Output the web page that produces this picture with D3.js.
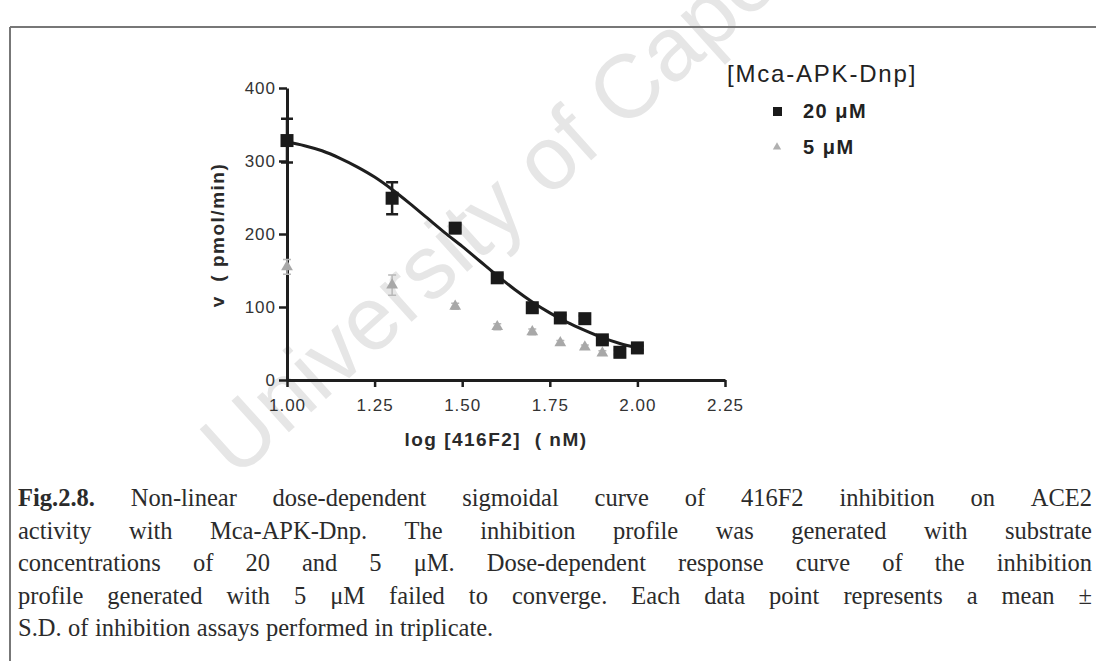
<!DOCTYPE html>
<html>
<head>
<meta charset="utf-8">
<script src="https://cdn.jsdelivr.net/npm/d3@7"></script>
<style>
  body { margin: 0; background: #fff; }
  svg { display: block; }
</style>
</head>
<body>
<svg id="fig" width="1096" height="661"></svg>
<script>
// log[416F2] (nM) for each dose
var logConc = [1.00, 1.30, 1.48, 1.60, 1.70, 1.78, 1.85, 1.90, 1.95, 2.00];
// 20 uM substrate: mean rate and S.D.
var rate20 = [328, 249, 208, 140, 99, 85, 84, 55, 38, 44];
var sd20 = [30, 22, 5, 5, 5, 4, 4, 4, 3, 3];
// 5 uM substrate (no fit)
var rate5 = [155, 130, 101, 73, 66, 51, 45, 37, 34, 40];
var sd5 = [10, 14, 4, 4, 4, 3, 3, 3, 3, 3];
// fitted sigmoid for 20 uM
var fitX = [1.00, 1.05, 1.10, 1.15, 1.20, 1.25, 1.30, 1.35, 1.40, 1.45, 1.50, 1.55, 1.60, 1.65, 1.70, 1.75, 1.80, 1.85, 1.90, 1.95, 2.00];
var fitY = [326, 321, 314, 304, 292, 278, 261, 242, 222, 202, 183, 163, 143, 124, 107, 92, 79, 68, 58, 50, 44];

var xTicks = [1.00, 1.25, 1.50, 1.75, 2.00, 2.25];
var yTicks = [0, 100, 200, 300, 400];

var legendTitle = "[Mca-APK-Dnp]";
var seriesNames = ["20 \u03bcM", "5 \u03bcM"];

var captionLines = [
    "Fig.2.8. Non-linear dose-dependent sigmoidal curve of 416F2 inhibition on ACE2",
    "activity with Mca-APK-Dnp. The inhibition profile was generated with substrate",
    "concentrations of 20 and 5 \u03bcM. Dose-dependent response curve of the inhibition",
    "profile generated with 5 \u03bcM failed to converge. Each data point represents a mean \u00b1",
    "S.D. of inhibition assays performed in triplicate."
];

var svg = d3.select("#fig");
var ink = "#1e1e1e";
var sans = "'Liberation Sans', Arial, sans-serif";

// watermark of the scanned thesis page
svg.append("text")
    .attr("transform", "translate(236,480) rotate(-42)")
    .attr("font-family", sans)
    .attr("font-size", 90)
    .attr("fill", "#e6e6e6")
    .text("University of Cape Town");

// frame of the page
svg.append("line").attr("x1", 10).attr("x2", 1096).attr("y1", 27).attr("y2", 27)
    .attr("stroke", "#777").attr("stroke-width", 2);
svg.append("line").attr("x1", 10).attr("x2", 10).attr("y1", 27).attr("y2", 661)
    .attr("stroke", "#777").attr("stroke-width", 2);

var x = d3.scaleLinear().domain([1, 2.25]).range([287, 725]);
var y = d3.scaleLinear().domain([0, 400]).range([380, 88]);

var plot = svg.append("g");

// axes
var xAxis = plot.append("g")
    .attr("transform", "translate(0," + y(0) + ")")
    .call(d3.axisBottom(x).tickValues(xTicks).tickFormat(d3.format(".2f")).tickSize(7).tickSizeOuter(0).tickPadding(12));
var yAxis = plot.append("g")
    .attr("transform", "translate(" + x(1) + ",0)")
    .call(d3.axisLeft(y).tickValues(yTicks).tickSize(8).tickSizeOuter(0).tickPadding(3));

[xAxis, yAxis].forEach(function (a) {
    a.select(".domain").attr("stroke", ink).attr("stroke-width", 3);
    a.selectAll(".tick line").attr("stroke", ink).attr("stroke-width", 2.5);
    a.selectAll(".tick text").attr("fill", "#333").attr("font-family", sans)
        .attr("font-size", 17).attr("letter-spacing", 1);
});

// axis titles
plot.append("text")
    .attr("x", 496).attr("y", 446)
    .attr("text-anchor", "middle")
    .attr("font-family", sans).attr("font-size", 19).attr("font-weight", "bold")
    .attr("fill", "#2a2a2a").attr("letter-spacing", 1.5)
    .attr("xml:space", "preserve")
    .text("log [416F2]  ( nM)");
plot.append("text")
    .attr("transform", "translate(224,235) rotate(-90)")
    .attr("text-anchor", "middle")
    .attr("font-family", sans).attr("font-size", 19).attr("font-weight", "bold")
    .attr("fill", "#2a2a2a").attr("letter-spacing", 1.5)
    .attr("xml:space", "preserve")
    .text("v  ( pmol/min)");

// 5 uM points (grey triangles)
var tri = d3.symbol().type(d3.symbolTriangle).size(60);
var pts5 = logConc.map(function (d, i) { return { x: d, v: rate5[i], sd: sd5[i] }; });
var g5 = plot.append("g");
g5.selectAll("path.err").data(pts5).enter().append("path")
    .attr("class", "err")
    .attr("d", function (d) {
        var cx = x(d.x), t = y(d.v + d.sd), b = y(d.v - d.sd);
        return "M" + (cx - 4) + "," + t + "H" + (cx + 4) + "M" + cx + "," + t + "V" + b + "M" + (cx - 4) + "," + b + "H" + (cx + 4);
    })
    .attr("stroke", "#b8b8b8").attr("stroke-width", 1.5).attr("fill", "none");
g5.selectAll("path.pt").data(pts5).enter().append("path")
    .attr("class", "pt")
    .attr("d", tri)
    .attr("transform", function (d) { return "translate(" + x(d.x) + "," + y(d.v) + ")"; })
    .attr("fill", "#a8a8a8");

// fitted curve
var fit = fitX.map(function (d, i) { return [d, fitY[i]]; });
plot.append("path")
    .datum(fit)
    .attr("d", d3.line().x(function (d) { return x(d[0]); }).y(function (d) { return y(d[1]); }).curve(d3.curveMonotoneX))
    .attr("fill", "none").attr("stroke", ink).attr("stroke-width", 3);

// 20 uM points (black squares)
var pts20 = logConc.map(function (d, i) { return { x: d, v: rate20[i], sd: sd20[i] }; });
var g20 = plot.append("g");
g20.selectAll("path.err").data(pts20).enter().append("path")
    .attr("class", "err")
    .attr("d", function (d) {
        var cx = x(d.x), t = y(d.v + d.sd), b = y(d.v - d.sd);
        return "M" + (cx - 6) + "," + t + "H" + (cx + 6) + "M" + cx + "," + t + "V" + b + "M" + (cx - 6) + "," + b + "H" + (cx + 6);
    })
    .attr("stroke", ink).attr("stroke-width", 2.5).attr("fill", "none");
g20.selectAll("rect").data(pts20).enter().append("rect")
    .attr("x", function (d) { return x(d.x) - 6.5; })
    .attr("y", function (d) { return y(d.v) - 6.5; })
    .attr("width", 13).attr("height", 13)
    .attr("fill", "#1a1a1a");

// legend
var leg = svg.append("g");
leg.append("text")
    .attr("x", 727).attr("y", 82)
    .attr("font-family", sans).attr("font-size", 24).attr("fill", "#222")
    .attr("letter-spacing", 1.8)
    .text(legendTitle);
leg.append("rect").attr("x", 773).attr("y", 107).attr("width", 9).attr("height", 9).attr("fill", "#1a1a1a");
leg.append("path").attr("d", d3.symbol().type(d3.symbolTriangle).size(30))
    .attr("transform", "translate(777,147)").attr("fill", "#b0b0b0");
leg.selectAll("text.item").data(seriesNames).enter().append("text")
    .attr("class", "item")
    .attr("x", 803).attr("y", function (d, i) { return 118 + i * 36; })
    .attr("font-family", sans).attr("font-size", 20).attr("font-weight", "bold").attr("fill", "#222")
    .attr("letter-spacing", 1.5)
    .text(function (d) { return d; });

// caption, justified like the printed page
var left = 18, right = 1092;
captionLines.forEach(function (line, i) {
    var words = line.split(" ");
    var t = svg.append("text")
        .attr("y", 506 + i * 32.5)
        .attr("font-family", "'Liberation Serif', 'Times New Roman', serif")
        .attr("font-size", 24.5)
        .attr("fill", "#2b2b2b");
    var spans = words.map(function (w, j) {
        return t.append("tspan")
            .attr("font-weight", (i === 0 && j === 0) ? "bold" : "normal")
            .text(w);
    });
    var widths = spans.map(function (s) { return s.node().getComputedTextLength(); });
    var last = i === captionLines.length - 1;
    var gap = last ? 6.5 : (right - left - d3.sum(widths)) / (words.length - 1);
    var cx = left;
    spans.forEach(function (s, j) {
        s.attr("x", cx);
        cx += widths[j] + gap;
    });
});
</script>
</body>
</html>
